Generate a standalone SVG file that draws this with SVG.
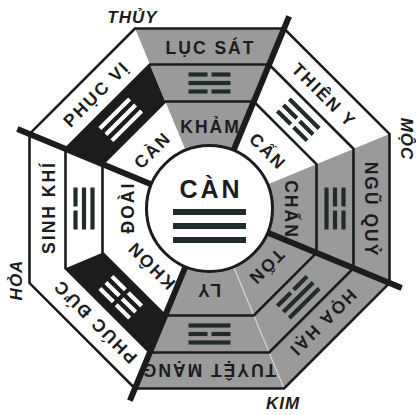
<svg xmlns="http://www.w3.org/2000/svg" width="416" height="415" viewBox="0 0 416 415">
<style>
.gray{fill:#9a9a9a}
.white{fill:#ffffff}
.band{fill:#1c1c1c}
.ring{fill:none;stroke:#1c1c1c;stroke-width:2.6;stroke-linejoin:miter}
.thick{stroke:#1c1c1c;stroke-width:6;stroke-linecap:butt}
.light{stroke:#d4d4d4;stroke-width:1.2}
.lbl{font-family:"Liberation Sans",Arial,sans-serif;font-weight:bold;font-size:17.5px;fill:#1c1c1c;text-anchor:middle;letter-spacing:2px}
.el{font-family:"Liberation Sans",Arial,sans-serif;font-weight:bold;font-style:italic;font-size:17px;fill:#1c1c1c;text-anchor:middle;letter-spacing:1px}
.tg{fill:#222b2c}
.tw{fill:#ffffff}
</style>
<defs>
<polygon id="wedge" points="209.5,208.5 134.94,28.5 284.06,28.5"/>
<polygon id="midband" points="149.85,64.5 269.15,64.5 253.82,101.5 165.18,101.5"/>
<rect id="s" x="-21" y="-2.1" width="42" height="4.2"/>
<g id="b"><rect x="-21" y="-2.1" width="19" height="4.2"/><rect x="2" y="-2.1" width="19" height="4.2"/></g>
</defs>

<g id="fills">
<use href="#wedge" class="gray"/>
<use href="#wedge" class="white" transform="rotate(45 209.5 208.5)"/>
<use href="#wedge" class="gray" transform="rotate(90 209.5 208.5)"/>
<use href="#wedge" class="gray" transform="rotate(135 209.5 208.5)"/>
<use href="#wedge" class="gray" transform="rotate(180 209.5 208.5)"/>
<use href="#wedge" class="white" transform="rotate(225 209.5 208.5)"/>
<use href="#wedge" class="white" transform="rotate(270 209.5 208.5)"/>
<use href="#wedge" class="white" transform="rotate(315 209.5 208.5)"/>
<use href="#midband" class="band" transform="rotate(225 209.5 208.5)"/>
<use href="#midband" class="band" transform="rotate(315 209.5 208.5)"/>
<line class="light" x1="185.39" y1="150.3" x2="134.95" y2="28.53" transform="rotate(180 209.5 208.5)"/>
</g>

<g id="rings">
<polygon class="ring" points="134.94,28.5 284.06,28.5 389.5,133.94 389.5,283.06 284.06,388.5 134.94,388.5 29.5,283.06 29.5,133.94"/>
<polygon class="ring" points="149.85,64.5 269.15,64.5 353.5,148.85 353.5,268.15 269.15,352.5 149.85,352.5 65.5,268.15 65.5,148.85"/>
<polygon class="ring" points="165.18,101.5 253.82,101.5 316.5,164.18 316.5,252.82 253.82,315.5 165.18,315.5 102.5,252.82 102.5,164.18"/>
</g>

<g id="connectors">
<line class="thick" x1="187.3" y1="154.92" x2="129.9" y2="16.33" transform="rotate(45 209.5 208.5)"/>
<line class="thick" x1="187.3" y1="154.92" x2="129.9" y2="16.33" transform="rotate(135 209.5 208.5)"/>
<line class="thick" x1="187.3" y1="154.92" x2="129.9" y2="16.33" transform="rotate(225 209.5 208.5)"/>
<line class="thick" x1="187.3" y1="154.92" x2="129.9" y2="16.33" transform="rotate(315 209.5 208.5)"/>
</g>

<g id="sector-n">
<g class="tg"><use href="#b" x="209.5" y="74.5"/><use href="#s" x="209.5" y="83"/><use href="#b" x="209.5" y="91.5"/></g>
<text class="lbl" x="210.5" y="53.5">LỤC SÁT</text>
<text class="lbl" x="210.5" y="133">KHẢM</text>
</g>
<g id="sector-ne" transform="rotate(45 209.5 208.5)">
<g class="tg"><use href="#s" x="209.5" y="74.5"/><use href="#b" x="209.5" y="83"/><use href="#b" x="209.5" y="91.5"/></g>
<text class="lbl" x="210.5" y="53.5">THIÊN Y</text>
<text class="lbl" x="210.5" y="133">CẤN</text>
</g>
<g id="sector-e" transform="rotate(90 209.5 208.5)">
<g class="tg"><use href="#b" x="209.5" y="74.5"/><use href="#b" x="209.5" y="83"/><use href="#s" x="209.5" y="91.5"/></g>
<text class="lbl" x="210.5" y="53.5">NGŨ QUỶ</text>
<text class="lbl" x="210.5" y="133">CHẤN</text>
</g>
<g id="sector-se" transform="rotate(135 209.5 208.5)">
<g class="tg"><use href="#s" x="209.5" y="74.5"/><use href="#s" x="209.5" y="83"/><use href="#b" x="209.5" y="91.5"/></g>
<text class="lbl" x="210.5" y="53.5">HỌA HẠI</text>
<text class="lbl" x="210.5" y="133">TỐN</text>
</g>
<g id="sector-s" transform="rotate(180 209.5 208.5)">
<g class="tg"><use href="#s" x="209.5" y="74.5"/><use href="#b" x="209.5" y="83"/><use href="#s" x="209.5" y="91.5"/></g>
<text class="lbl" x="210.5" y="53.5">TUYỆT MẠNG</text>
<text class="lbl" x="210.5" y="133">LY</text>
</g>
<g id="sector-sw" transform="rotate(225 209.5 208.5)">
<g class="tw"><use href="#b" x="209.5" y="74.5"/><use href="#b" x="209.5" y="83"/><use href="#b" x="209.5" y="91.5"/></g>
<text class="lbl" x="210.5" y="53.5">PHÚC ĐỨC</text>
<text class="lbl" x="210.5" y="133">KHÔN</text>
</g>
<g id="sector-w" transform="rotate(270 209.5 208.5)">
<g class="tg"><use href="#b" x="209.5" y="74.5"/><use href="#s" x="209.5" y="83"/><use href="#s" x="209.5" y="91.5"/></g>
<text class="lbl" x="210.5" y="53.5">SINH KHÍ</text>
<text class="lbl" x="210.5" y="133">ĐOÀI</text>
</g>
<g id="sector-nw" transform="rotate(315 209.5 208.5)">
<g class="tw"><use href="#s" x="209.5" y="74.5"/><use href="#s" x="209.5" y="83"/><use href="#s" x="209.5" y="91.5"/></g>
<text class="lbl" x="210.5" y="53.5">PHỤC VỊ</text>
<text class="lbl" x="210.5" y="133">CÀN</text>
</g>

<g id="center">
<circle cx="209.5" cy="208.5" r="63" fill="#ffffff" stroke="#1c1c1c" stroke-width="3"/>
<text x="211" y="198" style="font-family:'Liberation Sans',Arial,sans-serif;font-weight:bold;font-size:25px;fill:#1c1c1c;text-anchor:middle;letter-spacing:3px">CÀN</text>
<rect class="tg" x="173" y="209" width="73" height="6"/>
<rect class="tg" x="173" y="223" width="73" height="6"/>
<rect class="tg" x="173" y="237" width="73" height="6"/>
</g>

<g id="elements">
<text class="el" x="132.5" y="23">THỦY</text>
<text class="el" x="0.5" y="6" transform="translate(406.5 138.5) rotate(90)">MỘC</text>
<text class="el" x="283" y="409">KIM</text>
<text class="el" x="0.5" y="6" transform="translate(15.5 280.5) rotate(-90)">HỎA</text>
</g>
</svg>
